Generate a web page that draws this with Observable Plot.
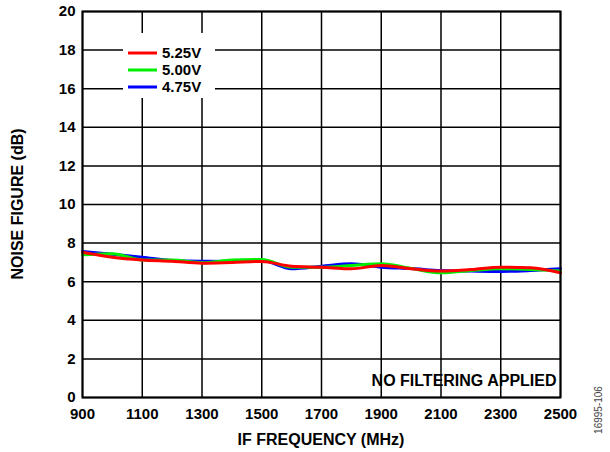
<!DOCTYPE html>
<html>
<head>
<meta charset="utf-8">
<script src="https://cdn.jsdelivr.net/npm/d3@7"></script>
<script src="https://cdn.jsdelivr.net/npm/@observablehq/plot@0.6"></script>
<style>
  html, body { margin: 0; padding: 0; background: #fff; }
  #chart { width: 610px; height: 452px; }
  svg { font-family: "Liberation Sans", Arial, sans-serif; }
</style>
</head>
<body>
<div id="chart"></div>
<script>
const freqs = [900, 1000, 1100, 1200, 1300, 1400, 1500, 1600, 1700, 1800, 1900, 2000, 2100, 2200, 2300, 2400, 2500];
const nf525 = [7.53, 7.27, 7.13, 7.06, 6.96, 7.0, 7.05, 6.80, 6.75, 6.67, 6.84, 6.67, 6.55, 6.63, 6.75, 6.72, 6.46];
const nf500 = [7.39, 7.45, 7.13, 7.13, 6.98, 7.12, 7.15, 6.75, 6.75, 6.84, 6.93, 6.69, 6.46, 6.58, 6.67, 6.63, 6.55];
const nf475 = [7.56, 7.42, 7.27, 7.10, 7.06, 7.05, 7.10, 6.67, 6.80, 6.93, 6.75, 6.68, 6.58, 6.55, 6.53, 6.58, 6.67];
const seriesNames = ["5.25V", "5.00V", "4.75V"];
const seriesColors = ["#ff0000", "#00ee00", "#0000ff"];
const xTicks = [900, 1100, 1300, 1500, 1700, 1900, 2100, 2300, 2500];
const yTicks = [0, 2, 4, 6, 8, 10, 12, 14, 16, 18, 20];

const allSeries = [nf525, nf500, nf475];
const rows = [];
// draw order: 4.75V bottom, then 5.00V, then 5.25V on top
[2, 1, 0].forEach(si => {
  freqs.forEach((f, i) => rows.push({series: seriesNames[si], freq: f, nf: allSeries[si][i]}));
});

const chart = Plot.plot({
  width: 610,
  height: 452,
  marginLeft: 82,
  marginRight: 50,
  marginTop: 11,
  marginBottom: 55,
  style: {fontFamily: "'Liberation Sans', Arial, sans-serif", fontSize: "15px", fontWeight: "bold", color: "#000", background: "#fff"},
  x: {domain: [900, 2500], label: null},
  y: {domain: [0, 20], label: null},
  color: {domain: seriesNames, range: seriesColors},
  marks: [
    Plot.gridX(xTicks, {stroke: "#000", strokeOpacity: 1, strokeWidth: 1.5}),
    Plot.gridY(yTicks, {stroke: "#000", strokeOpacity: 1, strokeWidth: 1.5}),
    Plot.axisX({ticks: xTicks, tickSize: 0, tickPadding: 11, fontSize: 15, fontWeight: "bold", label: null, tickFormat: d => String(d)}),
    Plot.axisY({ticks: yTicks, tickSize: 0, tickPadding: 7, fontSize: 15, fontWeight: "bold", label: null}),
    Plot.line(rows, {x: "freq", y: "nf", z: "series", stroke: "series", strokeWidth: 3, curve: "monotone-x"}),
    Plot.text(["NO FILTERING APPLIED"], {frameAnchor: "bottom-right", lineAnchor: "middle", dx: -4, dy: -17, fontSize: 16, fontWeight: "bold", fill: "#000"}),
    Plot.frame({stroke: "#000", strokeWidth: 2})
  ]
});

const svg = d3.select(chart);
// Legend
const lg = svg.append("g").attr("text-anchor", "start");
lg.append("rect").attr("x", 123).attr("y", 33).attr("width", 92).attr("height", 65).attr("fill", "#fff");
seriesNames.forEach((name, i) => {
  const y = 53 + i * 17;
  lg.append("line").attr("x1", 128).attr("x2", 157).attr("y1", y).attr("y2", y)
    .attr("stroke", seriesColors[i]).attr("stroke-width", 3);
  lg.append("text").attr("x", 162).attr("y", y).attr("dy", "0.35em").attr("text-anchor", "start")
    .attr("font-size", 15).attr("font-weight", "bold").attr("fill", "#000").text(name);
});
// Axis titles
svg.append("text").attr("x", 321).attr("y", 439).attr("dy", "0.35em").attr("text-anchor", "middle")
  .attr("font-size", 16).attr("font-weight", "bold").attr("fill", "#000").text("IF FREQUENCY (MHz)");
svg.append("text").attr("transform", "translate(17,204) rotate(-90)").attr("dy", "0.35em").attr("text-anchor", "middle")
  .attr("font-size", 16).attr("font-weight", "bold").attr("fill", "#000").text("NOISE FIGURE (dB)");
// Figure id
svg.append("text").attr("transform", "translate(598,410) rotate(-90)").attr("dy", "0.35em").attr("text-anchor", "middle")
  .attr("font-size", 10).attr("font-weight", "normal").attr("fill", "#444").text("16995-106");

document.getElementById("chart").appendChild(chart);
</script>
</body>
</html>
